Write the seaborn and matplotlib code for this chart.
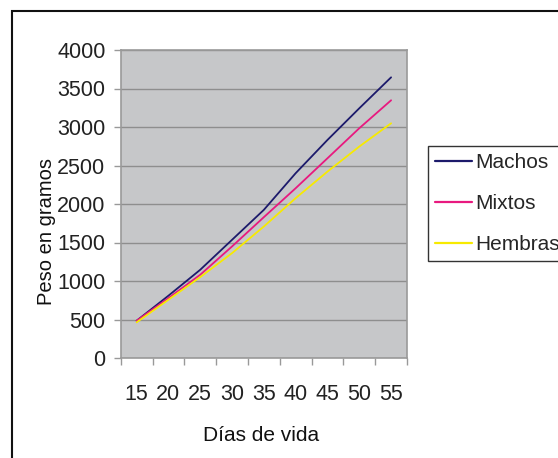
import matplotlib
matplotlib.use("Agg")
import matplotlib.pyplot as plt
import seaborn as sns
import pandas as pd
from matplotlib.patches import Rectangle
from matplotlib.ticker import FixedLocator

dias = [15, 20, 25, 30, 35, 40, 45, 50, 55]
machos = [484, 809, 1146, 1535, 1924, 2400, 2832, 3243, 3645]
mixtos = [484, 778, 1081, 1449, 1829, 2205, 2594, 2984, 3347]
hembras = [463, 757, 1051, 1362, 1708, 2076, 2421, 2746, 3048]
grupos = ["Machos", "Mixtos", "Hembras"]
colores = ["#1c1a6b", "#e8197f", "#f7ea00"]
y_ticks = [0, 500, 1000, 1500, 2000, 2500, 3000, 3500, 4000]

df = pd.DataFrame({
    "dia": dias * 3,
    "peso": machos + mixtos + hembras,
    "grupo": [g for g in grupos for _ in dias],
})

sns.set_style("white")
plt.rcParams["font.family"] = ["Liberation Sans", "DejaVu Sans"]

fig = plt.figure(figsize=(5.58, 4.58), dpi=100)
ax = fig.add_axes([120.7 / 558, 1 - 358 / 458, (407 - 120.7) / 558, (358 - 50) / 458])
ax.set_facecolor("#c6c7c9")

sns.lineplot(data=df, x="dia", y="peso", hue="grupo", hue_order=grupos,
             palette=colores, linewidth=1.3, ax=ax, legend=False)

ax.set_xlim(12.5, 57.5)
ax.set_ylim(0, 4000)
ax.set_yticks(y_ticks)
ax.set_yticklabels([str(v) for v in y_ticks])
ax.yaxis.grid(True, color="#8e8e8e", linewidth=1.0)
ax.set_axisbelow(True)

bounds = [d - 2.5 for d in dias] + [dias[-1] + 2.5]
ax.xaxis.set_major_locator(FixedLocator(bounds))
ax.xaxis.set_minor_locator(FixedLocator(dias))
ax.set_xticklabels([""] * len(bounds))
ax.set_xticklabels([str(d) for d in dias], minor=True)
ax.tick_params(axis="x", which="major", length=5, width=1, color="#999999", direction="out", bottom=True)
ax.tick_params(axis="x", which="minor", length=0, pad=19, labelsize=15.5, labelcolor="#222222")
ax.tick_params(axis="y", which="major", length=5, width=1, color="#999999", direction="out", left=True,
               pad=6, labelsize=15.5, labelcolor="#222222")

for s in ax.spines.values():
    s.set_color("#9a9a9a")
    s.set_linewidth(1.2)

ax.set_xlabel("Días de vida", fontsize=15, color="#111111")
ax.set_ylabel("Peso en gramos", fontsize=14.5, color="#111111")
ax.xaxis.set_label_coords(0.49, -0.22)
ax.yaxis.set_label_coords(-0.225, 0.41)

handles = [plt.Line2D([], [], color=c, linewidth=1.6) for c in colores]
leg = fig.legend(handles, grupos, loc="upper left", bbox_to_anchor=(428 / 558, 1 - 146 / 458),
                 frameon=True, fancybox=False, edgecolor="black", fontsize=15,
                 handlelength=1.75, handletextpad=0.15, labelspacing=1.05, borderpad=0.35,
                 borderaxespad=0)
leg.get_frame().set_linewidth(1.0)
leg.get_frame().set_facecolor("white")

fig.patches.append(Rectangle((12 / 558, -0.1), 1.2, 1 - 11 / 458 + 0.1, transform=fig.transFigure,
                             fill=False, edgecolor="#111111", linewidth=1.5, zorder=0))

fig.savefig("out.png", dpi=100)
